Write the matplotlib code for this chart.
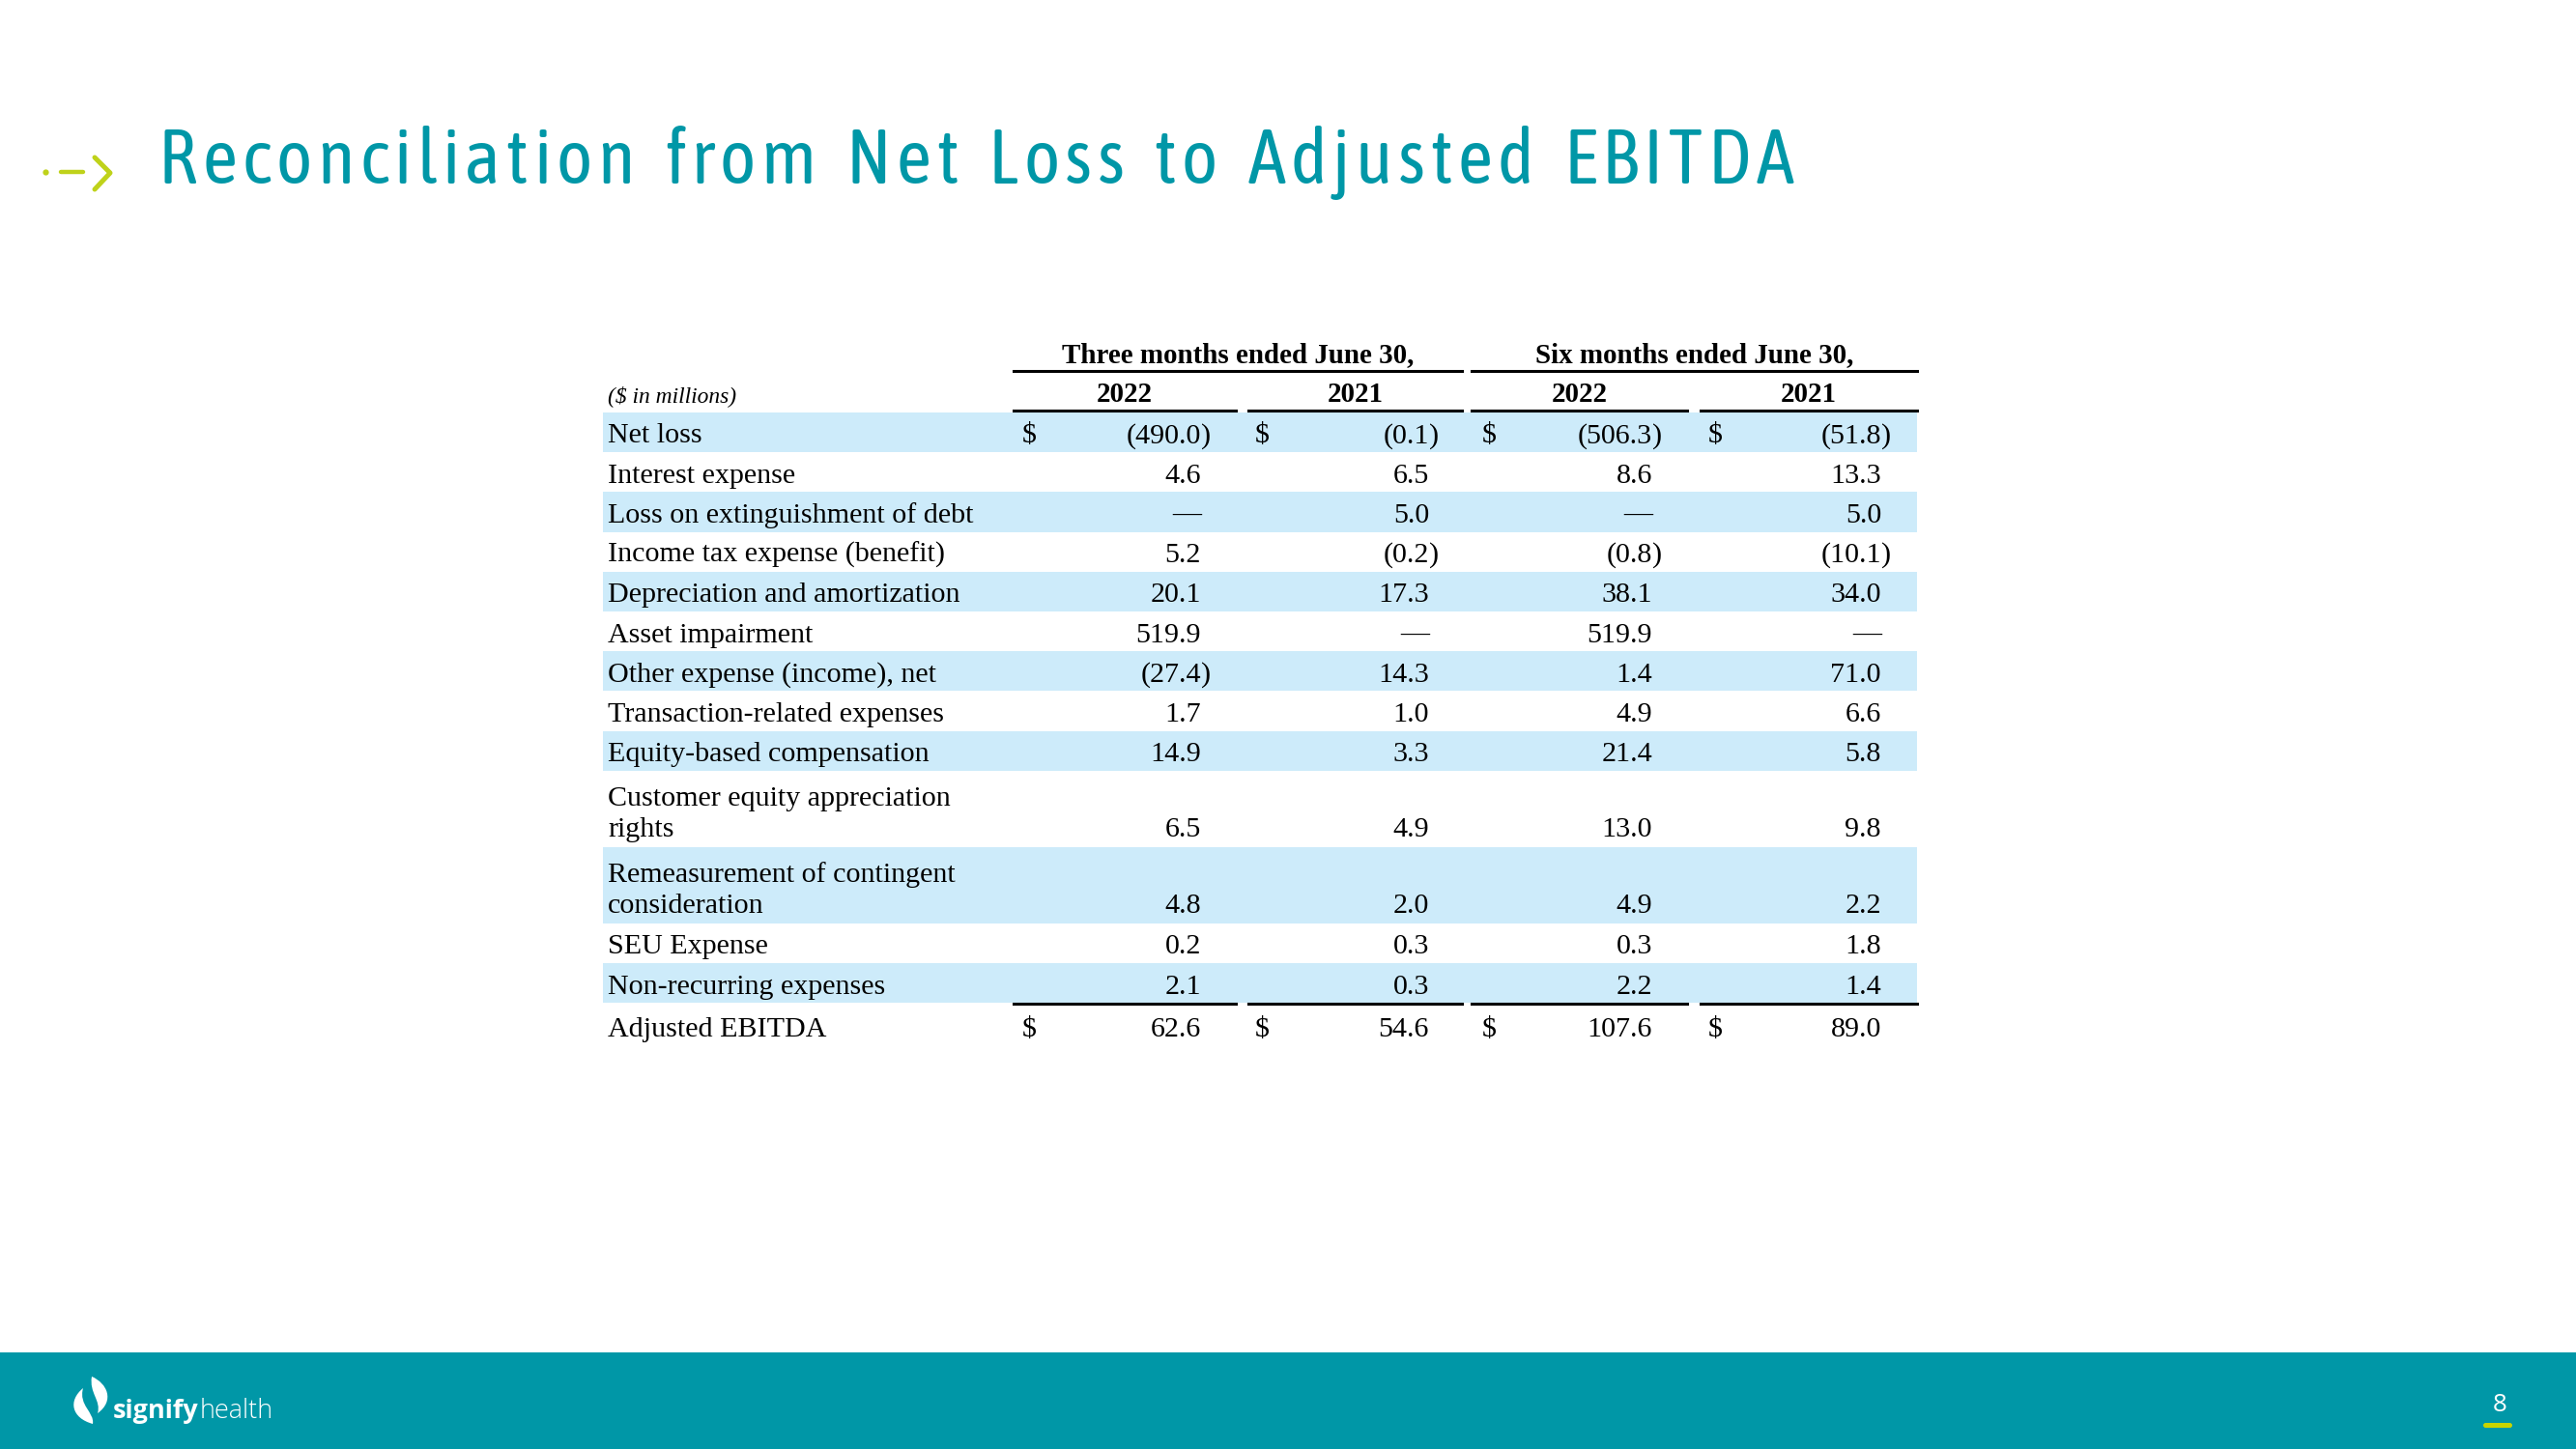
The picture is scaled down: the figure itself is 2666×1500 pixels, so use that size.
import os
import matplotlib
matplotlib.use("Agg")
import matplotlib.pyplot as plt
from matplotlib import font_manager
from matplotlib.patches import Rectangle, FancyBboxPatch, PathPatch
from matplotlib.path import Path

# table data ($ in millions)
row_labels = ["Net loss", "Interest expense", "Loss on extinguishment of debt",
              "Income tax expense (benefit)", "Depreciation and amortization",
              "Asset impairment", "Other expense (income), net",
              "Transaction-related expenses", "Equity-based compensation",
              "Customer equity appreciation\nrights",
              "Remeasurement of contingent\nconsideration",
              "SEU Expense", "Non-recurring expenses", "Adjusted EBITDA"]
q2_2022 = ["(490.0)", "4.6", "—", "5.2", "20.1", "519.9", "(27.4)", "1.7", "14.9", "6.5", "4.8", "0.2", "2.1", "62.6"]
q2_2021 = ["(0.1)", "6.5", "5.0", "(0.2)", "17.3", "—", "14.3", "1.0", "3.3", "4.9", "2.0", "0.3", "0.3", "54.6"]
h1_2022 = ["(506.3)", "8.6", "—", "(0.8)", "38.1", "519.9", "1.4", "4.9", "21.4", "13.0", "4.9", "0.3", "2.2", "107.6"]
h1_2021 = ["(51.8)", "13.3", "5.0", "(10.1)", "34.0", "—", "71.0", "6.6", "5.8", "9.8", "2.2", "1.8", "1.4", "89.0"]
period_titles = ["Three months ended June 30,", "Six months ended June 30,"]
year_labels = ["2022", "2021", "2022", "2021"]
dollar_rows = [0, 13]

TITLE = "Reconciliation from Net Loss to Adjusted EBITDA"
TEAL = "#0097A7"
LIME = "#BFD21A"
BAND = "#CDEBFA"
SERIF = "Liberation Serif"


def find_narrow_font():
    # look for a narrow / condensed sans, regular weight
    fonts = font_manager.fontManager.ttflist
    for f in fonts:
        if f.name == "Liberation Sans Narrow" and f.style == "normal" and f.weight in (400, "normal"):
            return f.fname
    for key in ["SansNarrow-Regular", "Condensed-Regular", "SansCondensed.", "Condensed.", "Narrow"]:
        for f in fonts:
            base = os.path.basename(f.fname)
            if key in base and not any(b in base for b in ["Bold", "Italic", "Oblique", "Serif", "Mono", "Light"]):
                return f.fname
    return None


W, H = 2666, 1500
fig = plt.figure(figsize=(W / 100, H / 100), dpi=100)
ax = fig.add_axes([0, 0, 1, 1])
ax.set_xlim(0, W)
ax.set_ylim(H, 0)
ax.axis("off")
renderer = fig.canvas.get_renderer()


def pt(px):
    return px * 0.72


# ---- title with letter spacing ----
narrow = find_narrow_font()
x0, x1 = 164, 1856
space_extra = 9
n_spaces = TITLE.count(" ")
size_px = 79
while True:
    if narrow:
        tprop = font_manager.FontProperties(fname=narrow, size=pt(size_px))
    else:
        tprop = font_manager.FontProperties(family="Liberation Sans", size=pt(size_px))

    def tw(s):
        return renderer.get_text_width_height_descent(s, tprop, ismath=False)[0]

    full_w = tw(TITLE)
    track = (x1 - x0 - full_w - space_extra * n_spaces) / (len(TITLE) - 1)
    if track >= 0 or size_px < 50:
        break
    size_px -= 1

sent = tw("I")
spaces_seen = 0
for i, ch in enumerate(TITLE):
    if ch == " ":
        spaces_seen += 1
        continue
    pos = (tw(TITLE[:i] + "I") - sent) if i > 0 else 0
    ax.text(x0 + pos + i * track + spaces_seen * space_extra, 190, ch,
            fontproperties=tprop, color=TEAL, ha="left", va="baseline")

# arrow next to title
ax.plot([47], [178], "o", color=LIME, ms=4.5, mec="none")
ax.plot([63, 86], [178, 178], color=LIME, lw=3.2, solid_capstyle="round")
ax.plot([98, 114, 98], [163, 179, 196], color=LIME, lw=3.6,
        solid_capstyle="round", solid_joinstyle="round")

# ---- table ----
col_right = [1243, 1479, 1710, 1947]
col_dollar = [1058, 1299, 1534, 1768]
spans = [(1049, 1279), (1292, 1513), (1523, 1746), (1760, 1984)]
label_x = 629
band_x0, band_x1 = 624, 1984
fs = pt(30)

ax.text((spans[0][0] + spans[1][1]) / 2, 375, period_titles[0], family=SERIF, weight="bold",
        fontsize=pt(29), ha="center", va="baseline")
ax.text((spans[2][0] + spans[3][1]) / 2, 375, period_titles[1], family=SERIF, weight="bold",
        fontsize=pt(29), ha="center", va="baseline")
ax.plot([spans[0][0], spans[1][1]], [384, 384], color="black", lw=2.2)
ax.plot([spans[2][0], spans[3][1]], [384, 384], color="black", lw=2.2)

ax.text(label_x, 416, "($ in millions)", family=SERIF, style="italic", fontsize=pt(23.5),
        ha="left", va="baseline")
for (a, b), yr in zip(spans, year_labels):
    ax.text((a + b) / 2, 416, yr, family=SERIF, weight="bold", fontsize=pt(29),
            ha="center", va="baseline")
    ax.plot([a, b], [425, 425], color="black", lw=2.2)

columns = [q2_2022, q2_2021, h1_2022, h1_2021]
top = 427
for r, label in enumerate(row_labels):
    two_line = "\n" in label
    h = 79 if two_line else 41.2
    if r == len(row_labels) - 1:
        top += 3
    if r % 2 == 0 and r < len(row_labels) - 1:
        ax.add_patch(Rectangle((band_x0, top), band_x1 - band_x0, h, color=BAND, lw=0, zorder=0))
    if two_line:
        l1, l2 = label.split("\n")
        ax.text(label_x, top + 36, l1, family=SERIF, fontsize=fs, va="baseline")
        ax.text(label_x, top + 68, l2, family=SERIF, fontsize=fs, va="baseline")
        base = top + 68
    else:
        base = top + 31.5
        ax.text(label_x, base, label, family=SERIF, fontsize=fs, va="baseline")
    for c, vals in enumerate(columns):
        v = vals[r]
        if v.endswith(")"):
            ax.text(col_right[c], base, v[:-1], family=SERIF, fontsize=fs, ha="right", va="baseline")
            ax.text(col_right[c], base, ")", family=SERIF, fontsize=fs, ha="left", va="baseline")
        else:
            ax.text(col_right[c], base, v, family=SERIF, fontsize=fs, ha="right", va="baseline")
        if r in dollar_rows:
            ax.text(col_dollar[c], base, "$", family=SERIF, fontsize=fs, ha="left", va="baseline")
    top += h
    if r == len(row_labels) - 2:
        for a, b in spans:
            ax.plot([a, b], [top + 1, top + 1], color="black", lw=2.2)

# ---- footer ----
ax.add_patch(Rectangle((0, 1400), W, 100, color=TEAL, lw=0))
ax.text(2587, 1461, "8", family="Open Sans", fontsize=pt(26), color="white",
        ha="center", va="baseline")
ax.add_patch(FancyBboxPatch((2570, 1473), 30, 5, boxstyle="round,pad=0,rounding_size=2.5",
                            color="#C8D400", lw=0))

# logo flames
upper = Path([(95, 1425), (111, 1432), (119, 1450), (101, 1463),
              (105, 1450), (92, 1442), (95, 1425)],
             [Path.MOVETO, Path.CURVE4, Path.CURVE4, Path.CURVE4,
              Path.CURVE4, Path.CURVE4, Path.CURVE4])
lower = Path([(86, 1437), (70, 1450), (74, 1468), (96, 1474),
              (98, 1462), (81, 1455), (86, 1437)],
             [Path.MOVETO, Path.CURVE4, Path.CURVE4, Path.CURVE4,
              Path.CURVE4, Path.CURVE4, Path.CURVE4])
ax.add_patch(PathPatch(upper, fc="white", ec="none"))
ax.add_patch(PathPatch(lower, fc="white", ec="none"))
t1 = ax.text(117, 1468, "signify", family="Open Sans", weight="bold", fontsize=pt(27),
             color="white", ha="left", va="baseline")
bb = t1.get_window_extent(renderer)
ax.text(bb.x1 + 1, 1468, "health", family="Open Sans", weight="light", fontsize=pt(27),
        color="white", ha="left", va="baseline")

fig.savefig("out.png", dpi=100)
